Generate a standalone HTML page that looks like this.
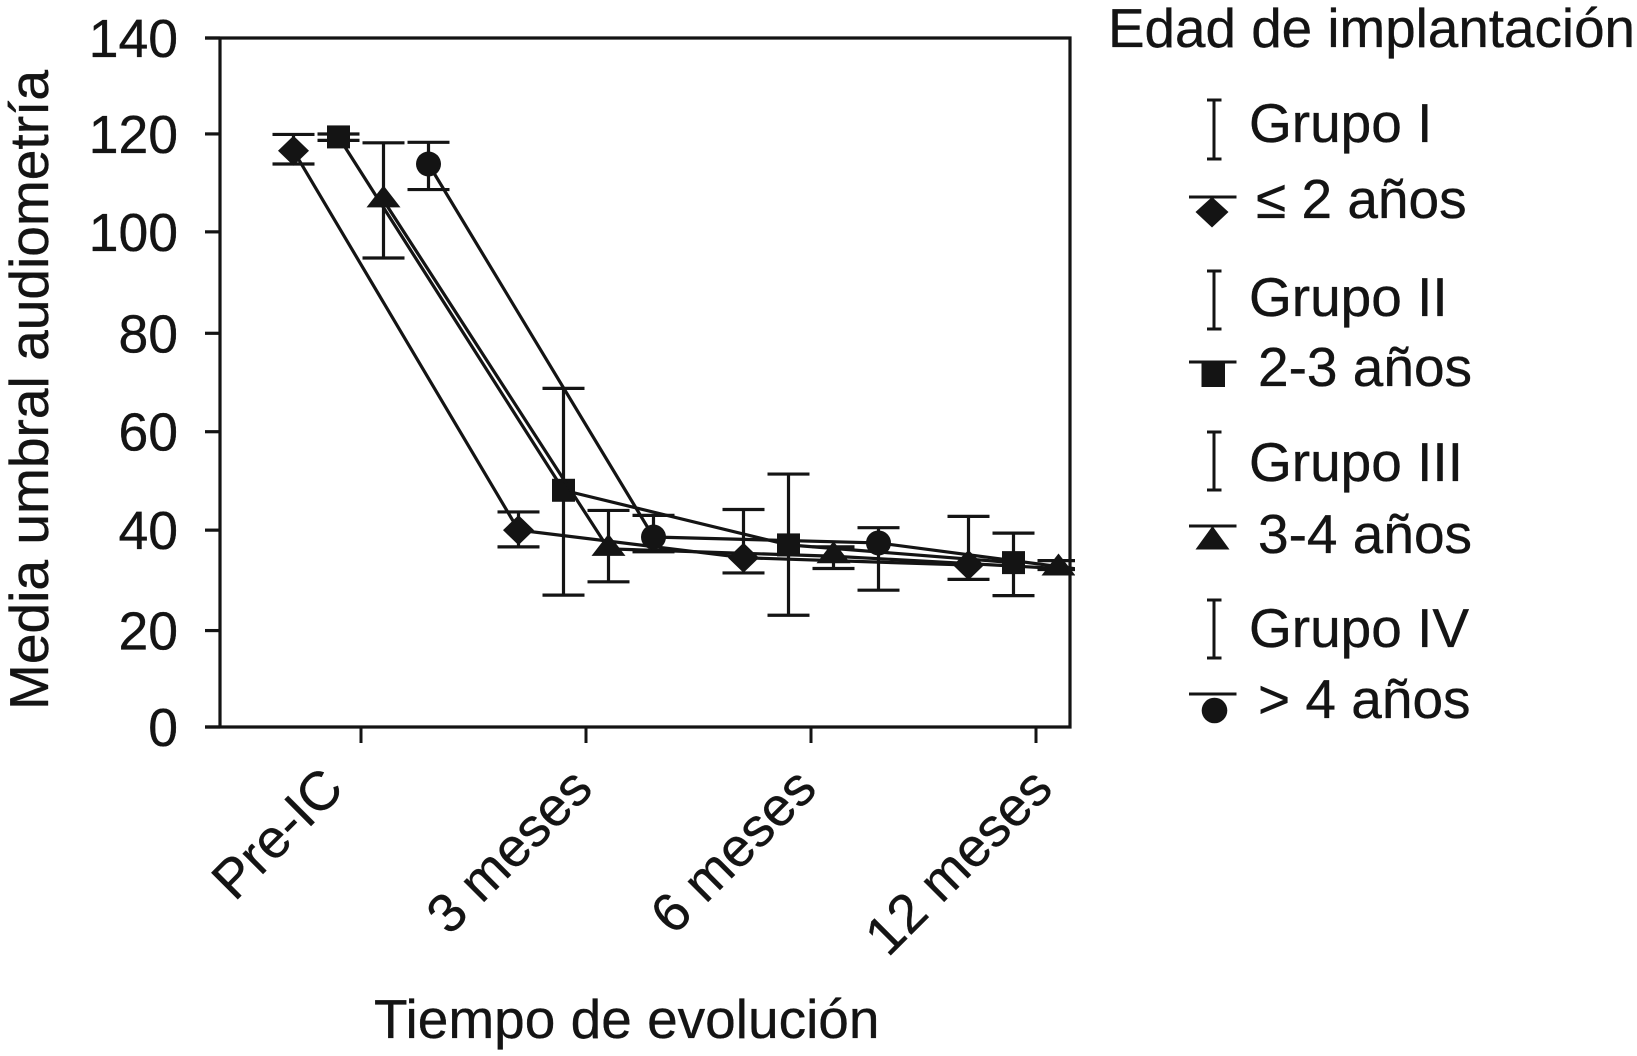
<!DOCTYPE html>
<html lang="es">
<head>
<meta charset="utf-8">
<title>Media umbral audiometría</title>
<style>
html,body{margin:0;padding:0;background:#fff;}
svg{display:block;}
text{font-family:"Liberation Sans",sans-serif;fill:#141414;stroke:#141414;stroke-width:0.35px;}
</style>
</head>
<body>
<svg id="chart" xmlns="http://www.w3.org/2000/svg" width="1637" height="1056" viewBox="0 0 1637 1056">
  <defs>
    <clipPath id="series-clip"><rect x="150" y="0" width="925" height="1056"/></clipPath>
  </defs>
  <rect x="0" y="0" width="1637" height="1056" fill="#fff"/>
  <g id="series-layer" clip-path="url(#series-clip)"></g>
  <g id="axis-layer"></g>

  <text font-size="55.1" text-anchor="middle" transform="translate(48,390) rotate(-90)">Media umbral audiometría</text>
  <text font-size="55" x="374" y="1038">Tiempo de evolución</text>

  <g stroke-linecap="butt">
    <text font-size="54.8" x="1108" y="47">Edad de implantación</text>

    <g>
      <path d="M1207 100H1221.5M1214 100V159M1207 159H1221.5" stroke="#141414" stroke-width="3" fill="none"/>
      <text font-size="55" x="1249" y="142">Grupo I</text>
      <line x1="1189" x2="1236.5" y1="197" y2="197" stroke="#141414" stroke-width="3"/>
      <polygon points="1212,197 1228.5,212 1212,227.5 1195.5,212" fill="#141414"/>
      <text font-size="55" x="1256" y="218">≤ 2 años</text>
    </g>

    <g>
      <path d="M1207 271H1221.5M1214 271V329M1207 329H1221.5" stroke="#141414" stroke-width="3" fill="none"/>
      <text font-size="55" x="1249" y="316">Grupo II</text>
      <line x1="1189" x2="1236.5" y1="362" y2="362" stroke="#141414" stroke-width="3"/>
      <rect x="1201.5" y="363" width="23.5" height="24" fill="#141414"/>
      <text font-size="55" x="1258" y="386">2-3 años</text>
    </g>

    <g>
      <path d="M1207 432H1221.5M1214 432V490M1207 490H1221.5" stroke="#141414" stroke-width="3" fill="none"/>
      <text font-size="55" x="1249" y="481">Grupo III</text>
      <line x1="1189" x2="1236.5" y1="526" y2="526" stroke="#141414" stroke-width="3"/>
      <polygon points="1212.5,526 1229.5,549.5 1195.5,549.5" fill="#141414"/>
      <text font-size="55" x="1258" y="553">3-4 años</text>
    </g>

    <g>
      <path d="M1207 600H1221.5M1214 600V658M1207 658H1221.5" stroke="#141414" stroke-width="3" fill="none"/>
      <text font-size="55" x="1249" y="647">Grupo IV</text>
      <line x1="1189" x2="1236.5" y1="694" y2="694" stroke="#141414" stroke-width="3"/>
      <circle cx="1214.5" cy="710.5" r="12.8" fill="#141414"/>
      <text font-size="55" x="1258" y="718">&gt; 4 años</text>
    </g>
  </g>
</svg>
<script>
const categories = ['Pre-IC', '3 meses', '6 meses', '12 meses'];
const yTicks = [0, 20, 40, 60, 80, 100, 120, 140];

const seriesNames = ['grupo-1', 'grupo-2', 'grupo-3', 'grupo-4'];
const markerKinds = ['diamond', 'square', 'triangle', 'circle'];

const grupo1Values = [117.1, 40, 34.4, 32.9];
const grupo1Upper = [120.4, 43.7, 44.2, 42.8];
const grupo1Lower = [114.4, 36.6, 31.3, 30];

const grupo2Values = [119.9, 48.1, 37, 33.4];
const grupo2Upper = [120.5, 68.8, 51.4, 39.4];
const grupo2Lower = [119.2, 26.8, 22.7, 26.7];

const grupo3Values = [107, 36.2, 34.7, 32.2];
const grupo3Upper = [118.7, 44, 36.6, 33.8];
const grupo3Lower = [95.3, 29.5, 32.2, 32];

const grupo4Values = [114.4, 38.6, 37.4, 31.4];
const grupo4Upper = [118.8, 43, 40.5, 33];
const grupo4Lower = [109.2, 35.6, 27.8, 30];

const allValues = [grupo1Values, grupo2Values, grupo3Values, grupo4Values];
const allUpper = [grupo1Upper, grupo2Upper, grupo3Upper, grupo4Upper];
const allLower = [grupo1Lower, grupo2Lower, grupo3Lower, grupo4Lower];

const NS = 'http://www.w3.org/2000/svg';
const INK = '#141414';
const plot = { left: 220, right: 1070, top: 38, bottom: 727, yMax: 140 };
const catStart = 361, catStep = 225, groupStep = 45;
const labelShift = [-15, 9, 8, 19];
const tickNudge = { 120: -2.5, 100: -3, 20: 2 };

function yScale(v) {
  return plot.bottom - (v / plot.yMax) * (plot.bottom - plot.top);
}
function xCenter(c) {
  return catStart + c * catStep;
}
function xScale(c, s) {
  return xCenter(c) + (s - 1.5) * groupStep;
}
function make(tag, attrs, parent) {
  const node = document.createElementNS(NS, tag);
  Object.keys(attrs).forEach(function (k) { node.setAttribute(k, attrs[k]); });
  parent.appendChild(node);
  return node;
}

const axisLayer = document.getElementById('axis-layer');
const seriesLayer = document.getElementById('series-layer');

const frame = make('path', {
  d: 'M' + (plot.left - 15) + ' ' + plot.top + 'H' + plot.right + 'V' + plot.bottom + 'H' + (plot.left - 15) +
     'M' + plot.left + ' ' + plot.top + 'V' + plot.bottom,
  fill: 'none', stroke: INK, 'stroke-width': 3.2
}, axisLayer);



yTicks.forEach(function (t) {
  const y = yScale(t) + (tickNudge[t] || 0);
  const tick = make('line', { x1: plot.left - 15, x2: plot.left, y1: y, y2: y, stroke: INK, 'stroke-width': 3.2 }, axisLayer);
  
  
  const label = make('text', { x: 178, y: y + 19, 'font-size': 53.5, 'text-anchor': 'end' }, axisLayer);
  label.textContent = String(t);
  
  
});

categories.forEach(function (name, c) {
  const x = xCenter(c);
  const tick = make('line', { x1: x, x2: x, y1: plot.bottom, y2: plot.bottom + 16, stroke: INK, 'stroke-width': 3 }, axisLayer);
  
  
  const label = make('text', {
    'font-size': 54.5, 'text-anchor': 'end',
    transform: 'translate(' + (x + labelShift[c]) + ',' + (plot.bottom + 64) + ') rotate(-45)'
  }, axisLayer);
  label.textContent = name;
  
  
});

function drawMarker(kind, x, y, parent) {
  if (kind === 'diamond') {
    return make('polygon', { points: [x, y - 15, x + 15.5, y, x, y + 15, x - 15.5, y].join(' '), fill: INK }, parent);
  }
  if (kind === 'square') {
    return make('rect', { x: x - 11.5, y: y - 11.5, width: 23, height: 23, fill: INK }, parent);
  }
  if (kind === 'triangle') {
    return make('polygon', { points: [x, y - 15, x + 17, y + 7, x - 17, y + 7].join(' '), fill: INK }, parent);
  }
  return make('circle', { cx: x, cy: y, r: 12.5, fill: INK }, parent);
}

allValues.forEach(function (values, s) {
  const group = make('g', {}, seriesLayer);
  
  

  const points = values.map(function (v, c) { return xScale(c, s) + ',' + yScale(v); }).join(' ');
  const line = make('polyline', { points: points, fill: 'none', stroke: INK, 'stroke-width': 3.2 }, group);
  
  

  values.forEach(function (v, c) {
    const x = xScale(c, s);
    const up = yScale(allUpper[s][c]);
    const lo = yScale(allLower[s][c]);
    const bar = make('path', {
      d: 'M' + (x - 21) + ' ' + up + 'H' + (x + 21) + 'M' + x + ' ' + up + 'V' + lo + 'M' + (x - 21) + ' ' + lo + 'H' + (x + 21),
      fill: 'none', stroke: INK, 'stroke-width': 3.2
    }, group);
    
    
  });

  values.forEach(function (v, c) {
    const marker = drawMarker(markerKinds[s], xScale(c, s), yScale(v), group);
    
    
  });
});
</script>
</body>
</html>
